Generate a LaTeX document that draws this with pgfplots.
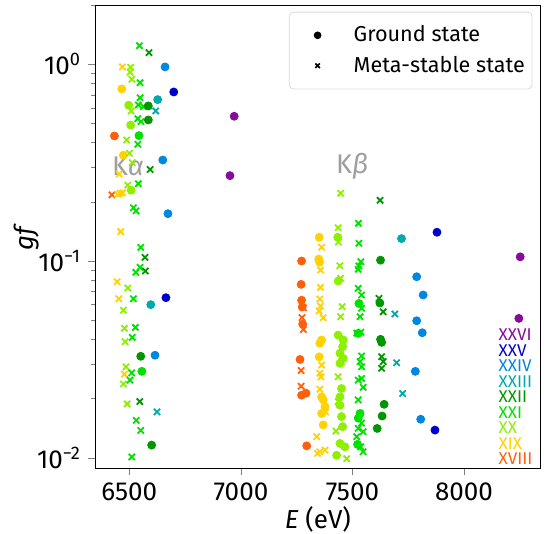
\documentclass[border=0pt]{standalone}
\usepackage{fontspec}
\setmainfont{Fira Sans}
\usepackage{pgfplots}
\pgfplotsset{compat=1.18}

% ion colours (XVIII .. XXVI)
\definecolor{c18}{RGB}{255,95,10}
\definecolor{c19}{RGB}{255,210,0}
\definecolor{c20}{RGB}{140,240,0}
\definecolor{c21}{RGB}{0,225,0}
\definecolor{c22}{RGB}{0,150,0}
\definecolor{c23}{RGB}{0,170,170}
\definecolor{c24}{RGB}{0,135,225}
\definecolor{c25}{RGB}{0,0,205}
\definecolor{c26}{RGB}{135,10,155}

\pgfplotsset{
  gs/.style={only marks, mark=*, mark size=2pt, color=#1, forget plot},
  ms/.style={only marks, mark=x, mark size=2.2pt, line width=0.9pt, color=#1, forget plot},
  onemark/.style={legend image code/.code={\draw[##1] plot coordinates {(0.43cm,0cm)}; \path (0cm,0cm) (0.98cm,0cm);}},
}

\begin{document}
\begin{tikzpicture}
\begin{axis}[
  scale only axis,
  width=222.85pt, height=231.65pt,
  ymode=log,
  xmin=6346, xmax=8344,
  ymin=0.00884, ymax=2.0,
  xtick={6500,7000,7500,8000},
  ytick={0.01,0.1,1},
  yticklabels={10\textsuperscript{−2},10\textsuperscript{−1},10\textsuperscript{0}},
  minor ytick={0.02,0.03,0.04,0.05,0.06,0.07,0.08,0.09,0.2,0.3,0.4,0.5,0.6,0.7,0.8,0.9,2},
  tick align=outside, tick pos=left,
  major tick length=3.5pt, minor tick length=2pt,
  /pgf/number format/assume math mode=true,
  /pgf/number format/1000 sep={},
  tick label style={font=\fontsize{13}{15}\selectfont},
  label style={font=\fontsize{13}{15}\selectfont},
  xlabel={\textit{E} (eV)},
  ylabel={\textit{gf}},
  xlabel style={at={(axis description cs:0.5,-0.1094)}, anchor=center},
  ylabel style={at={(axis description cs:-0.1526,0.5)}, anchor=center},
  legend style={at={(0.9812,0.9855)}, anchor=north east, draw=black!15,
    rounded corners=2pt, font=\fontsize{10.8}{12}\selectfont,
    inner xsep=1.5pt, inner ysep=4.8pt, row sep=1.6pt},
  legend cell align=left,
]
\addlegendimage{only marks, mark=*, mark size=1.7pt, black, onemark}
\addlegendentry{Ground state}
\addlegendimage{only marks, mark=x, mark size=1.6pt, line width=0.8pt, black, onemark}
\addlegendentry{Meta-stable state}

% XVIII
\addplot[ms=c18] coordinates {(6422,0.217) (7280,0.0579) (7274,0.0516) (7280,0.0449) (7270,0.0278) (7270,0.0231)};
\addplot[gs=c18] coordinates {(6433,0.432) (7272,0.1) (7270,0.0761) (7272,0.0632) (7275,0.0584) (7277,0.0478) (7265,0.0316) (7272,0.0208) (7292,0.0213) (7295,0.0115)};
% XIX
\addplot[ms=c19] coordinates {(6469,0.969) (6454,0.277) (6458,0.221) (6470,0.222) (6448,0.218) (6461,0.141) (6445,0.0785) (6453,0.0643) (6478,0.0266)
  (7362,0.1174) (7357,0.090) (7357,0.0735) (7354,0.0641) (7357,0.059) (7351,0.0557) (7369,0.0515) (7362,0.0296) (7354,0.0269) (7359,0.0258)
  (7354,0.0223) (7380,0.0171) (7340,0.0128) (7354,0.01073) (7377,0.01094) (7343,0.01053)};
\addplot[gs=c19] coordinates {(6466,0.749) (6473,0.345) (7351,0.132) (7349,0.1023) (7353,0.0985) (7362,0.0397) (7354,0.0382) (7351,0.0326)
  (7362,0.0204) (7369,0.0197) (7377,0.0182) (7362,0.0168) (7369,0.0147)};
% XX
\addplot[ms=c20] coordinates {(6506,0.965) (6503,0.911) (6511,0.839) (6508,0.579) (6488,0.412) (6500,0.353) (6513,0.316) (6493,0.243) (6493,0.0729)
  (6473,0.0562) (6478,0.0455) (6481,0.0389) (6485,0.029) (6473,0.0237) (6490,0.0188) (7447,0.221) (7436,0.1477) (7437,0.125) (7444,0.0946)
  (7447,0.0817) (7454,0.0586) (7447,0.0521) (7451,0.0308) (7436,0.0258) (7436,0.0193) (7426,0.01367) (7474,0.0099)};
\addplot[gs=c20] coordinates {(6497,0.619) (6506,0.491) (6508,0.229) (7434,0.132) (7436,0.0791) (7436,0.042) (7459,0.0397) (7456,0.0367) (7444,0.034)
  (7459,0.032) (7444,0.0302) (7451,0.0225) (7444,0.0204) (7444,0.0185) (7451,0.0162) (7456,0.0144) (7444,0.01183) (7466,0.01137) (7429,0.0103)};
% XXI
\addplot[ms=c21] coordinates {(6545,1.243) (6548,0.806) (6548,0.676) (6540,0.621) (6563,0.609) (6538,0.529) (6552,0.511) (6538,0.392) (6540,0.247)
  (6518,0.1866) (6530,0.180) (6551,0.1174) (6548,0.0929) (6529,0.0876) (6518,0.0643) (6527,0.046) (6513,0.0409) (6511,0.027) (6503,0.0248)
  (6531,0.0155) (6551,0.01378) (6511,0.0101) (7527,0.1555) (7529,0.123) (7538,0.0992) (7529,0.0943) (7526,0.0908) (7526,0.0727) (7541,0.0672)
  (7541,0.0575) (7534,0.0521) (7519,0.043) (7538,0.0435) (7541,0.0329) (7534,0.0308) (7541,0.029) (7526,0.0248) (7541,0.0253) (7548,0.0228)
  (7526,0.0197) (7534,0.0168) (7541,0.015) (7526,0.0141) (7548,0.01356) (7519,0.0128) (7537,0.01137) (7548,0.01073)};
\addplot[gs=c21] coordinates {(6543,0.434) (6556,0.0275) (7529,0.0609) (7526,0.0429) (7534,0.0168) (7526,0.0159) (7523,0.0117)};
% XXII
\addplot[ms=c22] coordinates {(6588,1.146) (6593,0.292) (6570,0.1044) (6572,0.089) (6547,0.0193) (7624,0.2034) (7619,0.0646) (7638,0.0552)
  (7631,0.0326) (7638,0.0308) (7631,0.0285)};
\addplot[gs=c22] coordinates {(6585,0.614) (6585,0.521) (6551,0.0328) (6600,0.0116) (7626,0.101) (7623,0.0612) (7626,0.04) (7631,0.0386)
  (7642,0.0187) (7633,0.0163) (7611,0.0141)};
% XXIII
\addplot[ms=c23] coordinates {(6618,0.579) (6624,0.0171) (7690,0.0538) (7698,0.0304) (7725,0.0212)};
\addplot[gs=c23] coordinates {(6627,0.661) (6596,0.06) (7720,0.13)};
% XXIV
\addplot[gs=c24] coordinates {(6660,0.969) (6650,0.326) (6673,0.174) (6615,0.0332) (7788,0.0832) (7817,0.0672) (7788,0.0497) (7813,0.0432)
  (7782,0.0275) (7806,0.0157)};
% XXV
\addplot[gs=c25] coordinates {(6699,0.723) (6664,0.0651) (7879,0.14) (7870,0.01383)};
% XXVI
\addplot[gs=c26] coordinates {(6970,0.544) (6951,0.2715) (8252,0.105) (8246,0.0511)};

\node[text=black!38, font=\fontsize{13.5}{15}\selectfont] at (rel axis cs:0.074,0.6525) {K\textit{α}};
\node[text=black!38, font=\fontsize{13.5}{15}\selectfont] at (rel axis cs:0.577,0.6525) {K\textit{β}};

\begin{scope}[every node/.style={anchor=west, inner sep=0pt, font=\fontsize{8.5}{10}\selectfont}]
\node[text=c26] at (rel axis cs:0.9049,0.2877) {XXVI};
\node[text=c25] at (rel axis cs:0.9049,0.2542) {XXV};
\node[text=c24] at (rel axis cs:0.9049,0.2208) {XXIV};
\node[text=c23] at (rel axis cs:0.9049,0.1873) {XXIII};
\node[text=c22] at (rel axis cs:0.9049,0.1539) {XXII};
\node[text=c21] at (rel axis cs:0.9049,0.1204) {XXI};
\node[text=c20] at (rel axis cs:0.9049,0.0869) {XX};
\node[text=c19] at (rel axis cs:0.9049,0.0535) {XIX};
\node[text=c18] at (rel axis cs:0.9049,0.0200) {XVIII};
\end{scope}
\end{axis}
\pgfresetboundingbox
\useasboundingbox ([shift={(-47.5pt,-32.35pt)}]current axis.south west) rectangle ([shift={(3.65pt,2.5pt)}]current axis.north east);
\end{tikzpicture}
\end{document}
